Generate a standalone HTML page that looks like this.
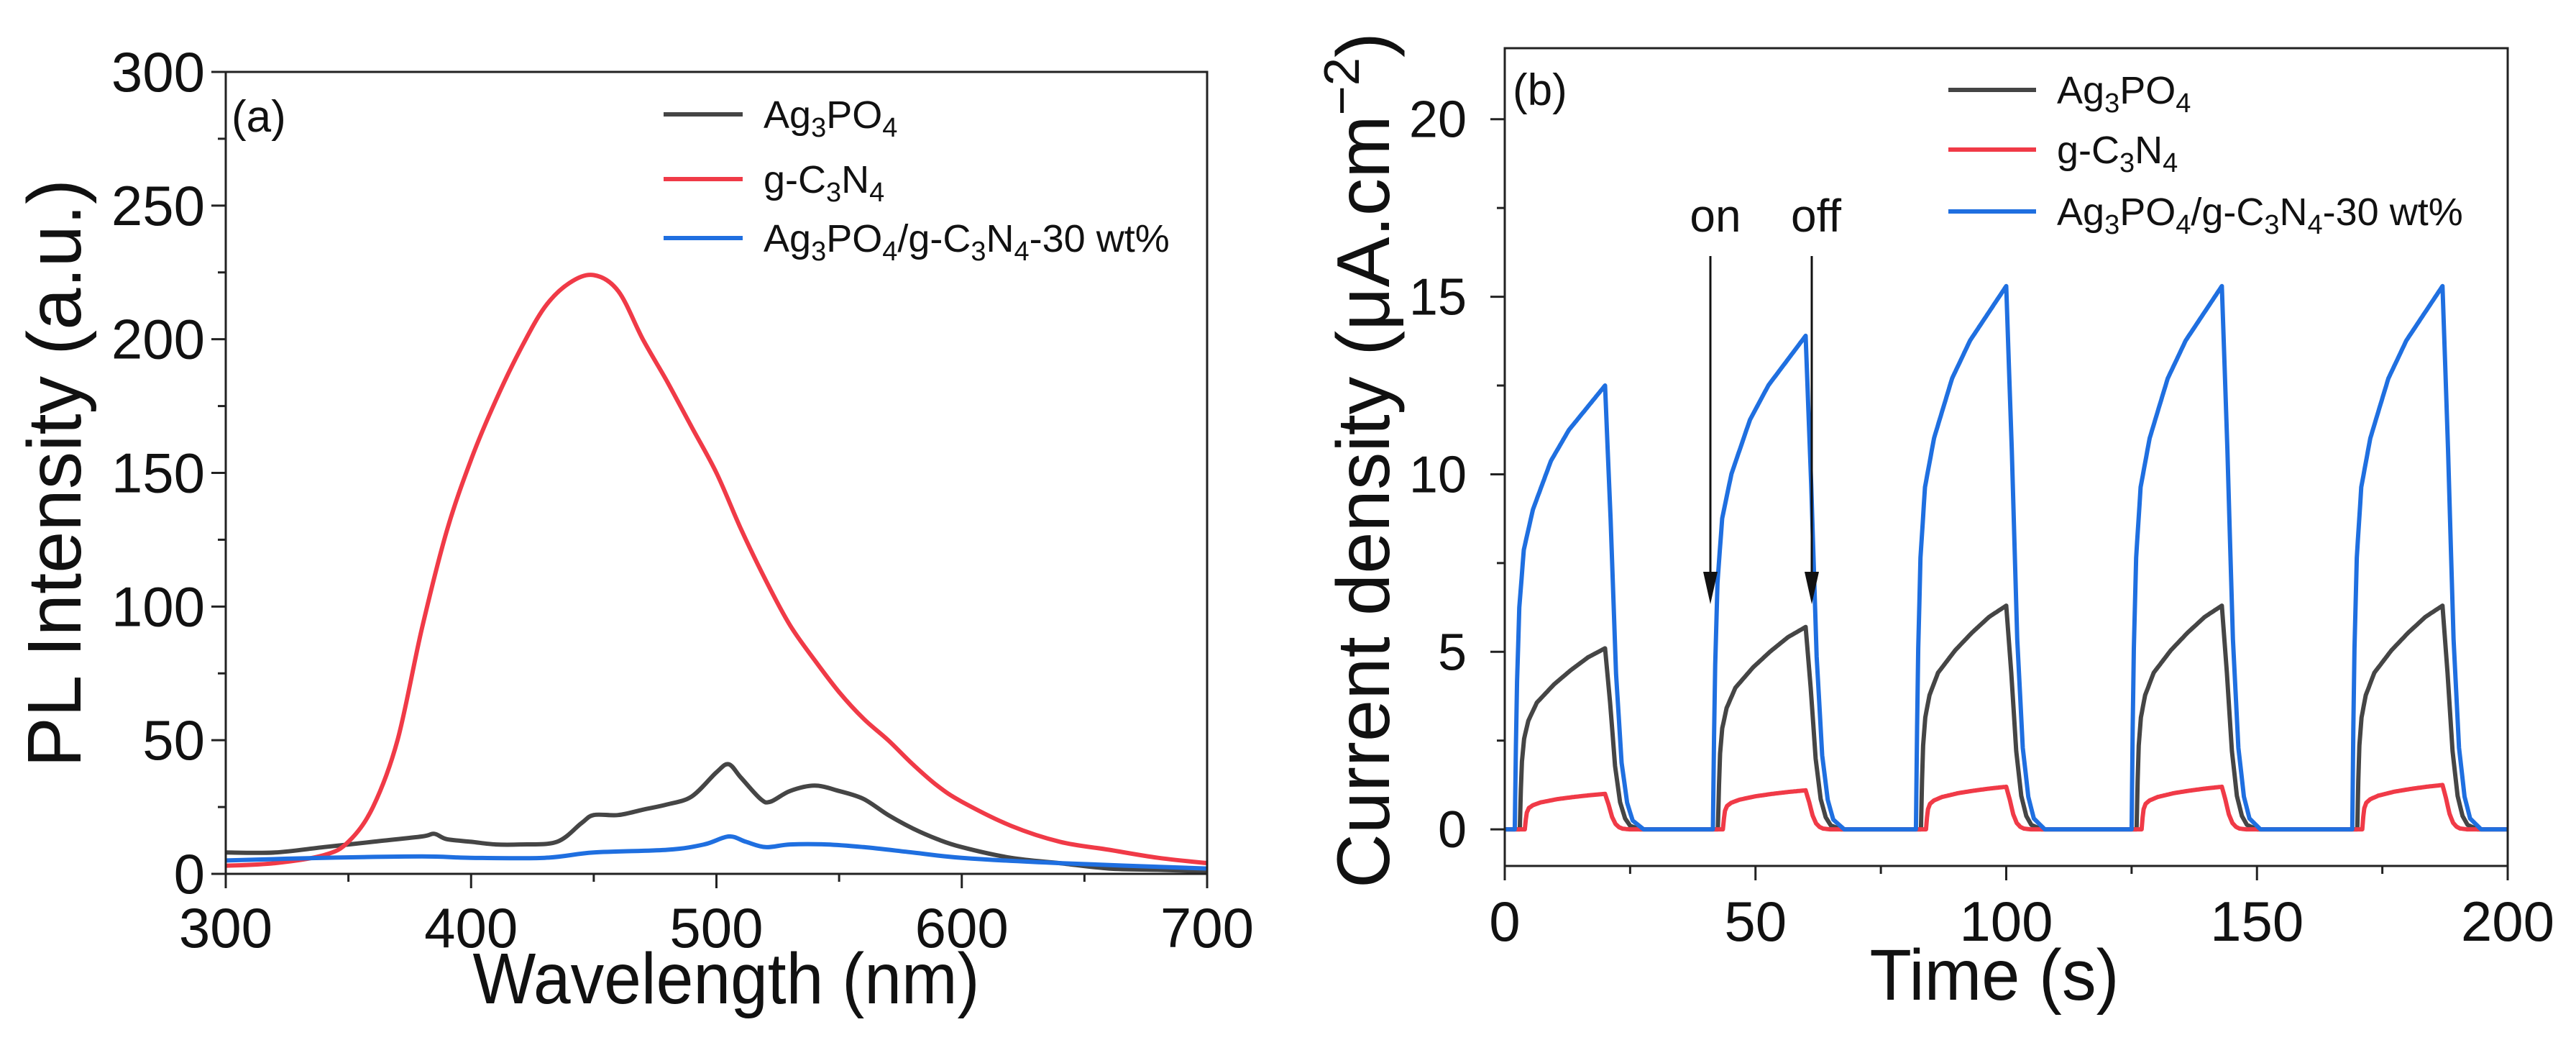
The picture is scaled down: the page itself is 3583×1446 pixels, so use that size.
<!DOCTYPE html>
<html><head><meta charset="utf-8"><style>
html,body{margin:0;padding:0;background:#fff;}
svg text{font-family:"Liberation Sans",Arial,sans-serif;fill:#111;}
</style></head><body>
<svg id="fig" width="3583" height="1441" viewBox="0 0 3583 1441" xmlns="http://www.w3.org/2000/svg">
<rect width="3583" height="1441" fill="#fff"/>
<g id="pa"></g>
<g id="pb"></g>
</svg>
<script>
// ---------- Panel (a) data ----------
const wlRed = [300,320,340,350,360,370,380,390,400,410,420,430,440,450,460,470,480,490,500,510,520,530,540,550,560,570,580,590,600,620,640,660,680,700];
const plRed = [3,4,7,12,25,50,92,128,155,177,196,212,221,224,218,200,184,167,150,129,110,93,80,68,58,50,41,33,27,18,12,9,6,4];
const wlBlack = [300,320,340,360,380,385,390,400,410,420,435,445,450,460,470,480,490,500,505,510,518,522,530,540,550,560,570,580,590,600,620,640,660,680,700];
const plBlack = [8,8,10,12,14,15,13,12,11,11,12,19,22,22,24,26,29,38,41,36,28,27,31,33,31,28,22,17,13,10,6,4,2,1.5,1];
const wlBlue = [300,340,380,400,430,450,480,495,505,512,520,530,545,560,580,600,640,700];
const plBlue = [5,6,6.5,6,6,8,9,11,14,12,10,11,11,10,8,6,4,2];
const aXTicks = [300,400,500,600,700];
const aYTicks = [0,50,100,150,200,250,300];

// ---------- Panel (b) data ----------
const onTimes = [2,41.5,82,125,169];
const offTimes = [20,60,100,143,187];
const peakBlue = [12.5,13.9,15.3,15.3,15.3];
const peakBlack = [5.1,5.7,6.3,6.3,6.3];
const peakRed = [1.0,1.1,1.2,1.2,1.25];
const riseFracT = [0,0.02,0.05,0.1,0.2,0.4,0.6,0.8,1];
const riseBlue = [0,0.3,0.5,0.63,0.72,0.83,0.9,0.95,1];
const riseBlack = [0,0.35,0.5,0.6,0.7,0.8,0.88,0.95,1];
const riseRed = [0,0.45,0.6,0.68,0.76,0.85,0.91,0.96,1];
const decayT = [0,1,2,3,4,5,7];
const decayFrac = [1,0.7,0.35,0.15,0.06,0.02,0];
const bXTicks = [0,50,100,150,200];
const bYTicks = [0,5,10,15,20];

const NS="http://www.w3.org/2000/svg";
function mk(parent,tag,attrs){const e=document.createElementNS(NS,tag);for(const k in attrs)e.setAttribute(k,attrs[k]);parent.appendChild(e);return e;}
function smoothPath(P){
 let d='M'+P[0][0].toFixed(1)+','+P[0][1].toFixed(1);
 for(let i=0;i<P.length-1;i++){
  const p0=P[i-1]||P[i],p1=P[i],p2=P[i+1],p3=P[i+2]||P[i+1];
  const c1=[p1[0]+(p2[0]-p0[0])/6,p1[1]+(p2[1]-p0[1])/6];
  const c2=[p2[0]-(p3[0]-p1[0])/6,p2[1]-(p3[1]-p1[1])/6];
  d+='C'+c1[0].toFixed(1)+','+c1[1].toFixed(1)+' '+c2[0].toFixed(1)+','+c2[1].toFixed(1)+' '+p2[0].toFixed(1)+','+p2[1].toFixed(1);
 }
 return d;
}

// ---- Panel a axes ----
const A={x0:314,x1:1679,y0:1215,y1:100,xmin:300,xmax:700,ymin:0,ymax:300};
const ax=v=>A.x0+(v-A.xmin)/(A.xmax-A.xmin)*(A.x1-A.x0);
const ay=v=>A.y0-(v-A.ymin)/(A.ymax-A.ymin)*(A.y0-A.y1);
const pa=document.getElementById('pa');

const sA=[[wlBlack,plBlack,'#454545','series-ag3po4'],[wlRed,plRed,'#f03a47','series-g-c3n4'],[wlBlue,plBlue,'#1f6fe0','series-composite']];
const clipA=mk(pa,'clipPath',{id:'ca'});mk(clipA,'rect',{x:A.x0,y:A.y1,width:A.x1-A.x0,height:A.y0-A.y1});
sA.forEach(s=>{
 const P=s[0].map((x,i)=>[ax(x),ay(s[1][i])]);
 const p=mk(pa,'path',{d:smoothPath(P),fill:'none',stroke:s[2],'stroke-width':6,'stroke-linejoin':'round','clip-path':'url(#ca)'});
 
 
});
mk(pa,'rect',{x:A.x0,y:A.y1,width:A.x1-A.x0,height:A.y0-A.y1,fill:'none',stroke:'#222','stroke-width':3,});
aXTicks.forEach(v=>{
 mk(pa,'line',{x1:ax(v),x2:ax(v),y1:A.y0,y2:A.y0+20,stroke:'#222','stroke-width':3});
 const t=mk(pa,'text',{x:ax(v),y:1317,'font-size':78,'text-anchor':'middle'});t.textContent=v;
 
 
 if(v<700){const m=v+50;mk(pa,'line',{x1:ax(m),x2:ax(m),y1:A.y0,y2:A.y0+11,stroke:'#222','stroke-width':3});}
});
aYTicks.forEach(v=>{
 mk(pa,'line',{x1:A.x0-20,x2:A.x0,y1:ay(v),y2:ay(v),stroke:'#222','stroke-width':3});
 const t=mk(pa,'text',{x:285,y:ay(v)+27,'font-size':78,'text-anchor':'end'});t.textContent=v;
 
 
 if(v<300){mk(pa,'line',{x1:A.x0-11,x2:A.x0,y1:ay(v+25),y2:ay(v+25),stroke:'#222','stroke-width':3});}
});
</script>
<script>
(function(){
const pa=document.getElementById('pa');
pa.insertAdjacentHTML('beforeend',`
<text x="1010" y="1395" font-size="100" text-anchor="middle" textLength="705" lengthAdjust="spacingAndGlyphs">Wavelength (nm)</text>
<text transform="translate(112,658) rotate(-90)" font-size="106" text-anchor="middle" textLength="818" lengthAdjust="spacingAndGlyphs">PL Intensity (a.u.)</text>
<text x="322" y="183" font-size="62">(a)</text>
<g>
<line x1="923" x2="1033" y1="159" y2="159" stroke="#454545" stroke-width="6"/>
<text x="1062" y="178" font-size="54">Ag<tspan font-size="38" dy="12">3</tspan><tspan dy="-12">PO</tspan><tspan font-size="38" dy="12">4</tspan></text>
<line x1="923" x2="1033" y1="249" y2="249" stroke="#f03a47" stroke-width="6"/>
<text x="1062" y="268" font-size="54">g-C<tspan font-size="38" dy="12">3</tspan><tspan dy="-12">N</tspan><tspan font-size="38" dy="12">4</tspan></text>
<line x1="923" x2="1033" y1="331" y2="331" stroke="#1f6fe0" stroke-width="6"/>
<text x="1062" y="350" font-size="54">Ag<tspan font-size="38" dy="12">3</tspan><tspan dy="-12">PO</tspan><tspan font-size="38" dy="12">4</tspan><tspan dy="-12">/g-C</tspan><tspan font-size="38" dy="12">3</tspan><tspan dy="-12">N</tspan><tspan font-size="38" dy="12">4</tspan><tspan dy="-12">-30 wt%</tspan></text>
</g>`);
})();

// ---- Panel b ----
const B={x0:2093,x1:3488,y0:1204,y1:67,xmin:0,xmax:200,ymin:-1.03,ymax:22};
const bx=v=>B.x0+(v-B.xmin)/(B.xmax-B.xmin)*(B.x1-B.x0);
const by=v=>B.y0-(v-B.ymin)/(B.ymax-B.ymin)*(B.y0-B.y1);
const pb=document.getElementById('pb');
function interp(xs,ys,x){if(x<=xs[0])return ys[0];for(let i=1;i<xs.length;i++){if(x<=xs[i]){const f=(x-xs[i-1])/(xs[i]-xs[i-1]);return ys[i-1]+f*(ys[i]-ys[i-1]);}}return ys[ys.length-1];}
function buildSeries(peaks,rise,delay,decayScale){
 const pts=[];
 for(let c=0;c<onTimes.length;c++){
  const on=onTimes[c]+delay, off=offTimes[c], dur=off-on;
  pts.push([on,0]);
  for(let k=0;k<=80;k++){const f=k/80;pts.push([on+dur*f,peaks[c]*interp(riseFracT,rise,f)]);}
  for(let k=1;k<=14;k++){const dt=k*0.5;pts.push([off+dt*decayScale,peaks[c]*interp(decayT,decayFrac,dt)]);}
 }
 pts.push([200,0]);
 return pts;
}
const sB=[[buildSeries(peakBlack,riseBlack,1,1),'#454545','series-ag3po4-b'],[buildSeries(peakRed,riseRed,2,0.7),'#f03a47','series-g-c3n4-b'],[buildSeries(peakBlue,riseBlue,0,1.1),'#1f6fe0','series-composite-b']];
const clipB=mk(pb,'clipPath',{id:'cb'});mk(clipB,'rect',{x:B.x0,y:B.y1,width:B.x1-B.x0,height:B.y0-B.y1});
sB.forEach(s=>{
 let d='M'+bx(0)+','+by(0);
 s[0].forEach(p=>{d+='L'+bx(p[0]).toFixed(1)+','+by(p[1]).toFixed(1);});
 const p=mk(pb,'path',{d:d,fill:'none',stroke:s[1],'stroke-width':6,'stroke-linejoin':'round','clip-path':'url(#cb)'});
 
 
});
mk(pb,'rect',{x:B.x0,y:B.y1,width:B.x1-B.x0,height:B.y0-B.y1,fill:'none',stroke:'#222','stroke-width':3,});
bXTicks.forEach(v=>{
 mk(pb,'line',{x1:bx(v),x2:bx(v),y1:B.y0,y2:B.y0+20,stroke:'#222','stroke-width':3});
 const t=mk(pb,'text',{x:bx(v),y:1308,'font-size':78,'text-anchor':'middle'});t.textContent=v;
 
 
 if(v<200){mk(pb,'line',{x1:bx(v+25),x2:bx(v+25),y1:B.y0,y2:B.y0+11,stroke:'#222','stroke-width':3});}
});
bYTicks.forEach(v=>{
 mk(pb,'line',{x1:B.x0-20,x2:B.x0,y1:by(v),y2:by(v),stroke:'#222','stroke-width':3});
 const t=mk(pb,'text',{x:2040,y:by(v)+25,'font-size':72,'text-anchor':'end'});t.textContent=v;
 
 
 if(v<20){mk(pb,'line',{x1:B.x0-11,x2:B.x0,y1:by(v+2.5),y2:by(v+2.5),stroke:'#222','stroke-width':3});}
});
pb.insertAdjacentHTML('beforeend',`
<text x="2774" y="1390" font-size="100" text-anchor="middle" textLength="347" lengthAdjust="spacingAndGlyphs">Time (s)</text>
<text transform="translate(1932,640) rotate(-90)" font-size="104" text-anchor="middle" textLength="1190" lengthAdjust="spacingAndGlyphs">Current density (μA.cm<tspan font-size="70" dy="-42">−2</tspan><tspan dy="42">)</tspan></text>
<text x="2104" y="146" font-size="62">(b)</text>
<g>
<line x1="2710" x2="2832" y1="125" y2="125" stroke="#454545" stroke-width="6"/>
<text x="2861" y="144" font-size="54">Ag<tspan font-size="38" dy="12">3</tspan><tspan dy="-12">PO</tspan><tspan font-size="38" dy="12">4</tspan></text>
<line x1="2710" x2="2832" y1="208" y2="208" stroke="#f03a47" stroke-width="6"/>
<text x="2861" y="227" font-size="54">g-C<tspan font-size="38" dy="12">3</tspan><tspan dy="-12">N</tspan><tspan font-size="38" dy="12">4</tspan></text>
<line x1="2710" x2="2832" y1="294" y2="294" stroke="#1f6fe0" stroke-width="6"/>
<text x="2861" y="313" font-size="54">Ag<tspan font-size="38" dy="12">3</tspan><tspan dy="-12">PO</tspan><tspan font-size="38" dy="12">4</tspan><tspan dy="-12">/g-C</tspan><tspan font-size="38" dy="12">3</tspan><tspan dy="-12">N</tspan><tspan font-size="38" dy="12">4</tspan><tspan dy="-12">-30 wt%</tspan></text>
</g>
<text x="2386" y="322" font-size="64" text-anchor="middle">on</text>
<text x="2526" y="322" font-size="64" text-anchor="middle">off</text>
<g><line x1="2379" x2="2379" y1="356" y2="800" stroke="#111" stroke-width="3"/><polygon points="2369,795 2389,795 2379,840" fill="#111"/></g>
<g><line x1="2520" x2="2520" y1="356" y2="800" stroke="#111" stroke-width="3"/><polygon points="2510,795 2530,795 2520,840" fill="#111"/></g>
`);
</script>
</body></html>
